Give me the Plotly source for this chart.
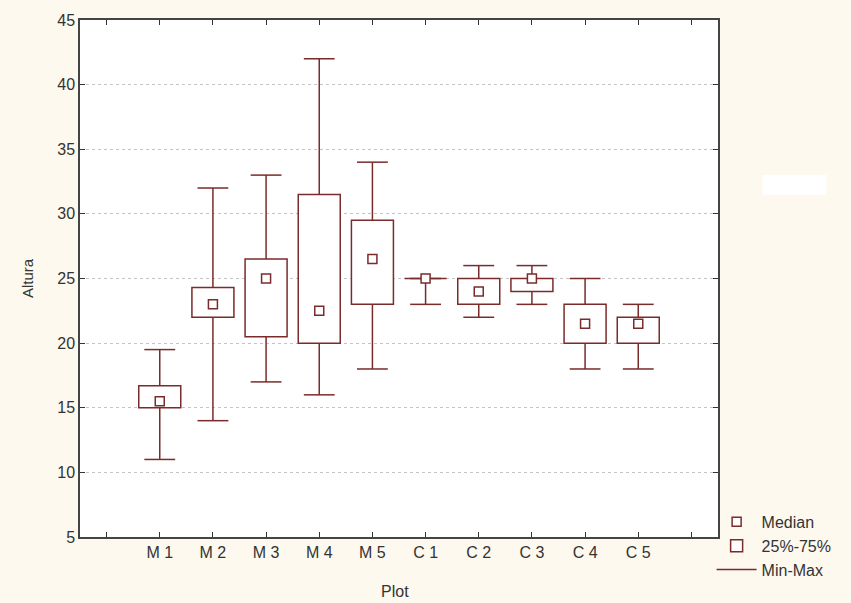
import plotly.graph_objects as go

categories = ["M 1", "M 2", "M 3", "M 4", "M 5", "C 1", "C 2", "C 3", "C 4", "C 5"]
minimum = [11, 14, 17, 16, 18, 23, 22, 23, 18, 18]
q1 = [15, 22, 20.5, 20, 23, 25, 23, 24, 20, 20]
median = [15.5, 23, 25, 22.5, 26.5, 25, 24, 25, 21.5, 21.5]
q3 = [16.7, 24.3, 26.5, 31.5, 29.5, 25, 25, 25, 23, 22]
maximum = [19.5, 32, 33, 42, 34, 25, 26, 26, 25, 23]

pos = list(range(1, len(categories) + 1))
col = "#7a2b2b"
font = "Arial, Liberation Sans, sans-serif"
cap = 0.29

wx, wy = [], []
for x, lo, a, b, hi in zip(pos, minimum, q1, q3, maximum):
    wx += [x, x, None, x - cap, x + cap, None, x, x, None, x - cap, x + cap, None]
    wy += [b, hi, None, hi, hi, None, a, lo, None, lo, lo, None]

fig = go.Figure()
fig.add_trace(go.Scatter(x=wx, y=wy, mode="lines", name="Min-Max",
                         line=dict(color=col, width=1.5)))
fig.add_trace(go.Bar(x=pos, y=[b - a for a, b in zip(q1, q3)], base=q1, width=0.79,
                     name="25%-75%",
                     marker=dict(color="white", line=dict(color=col, width=1.5))))
fig.add_trace(go.Scatter(x=pos, y=median, mode="markers", name="Median",
                         marker=dict(symbol="square", size=9, color="white",
                                     line=dict(color=col, width=1.5))))

fig.update_layout(
    width=851, height=603,
    margin=dict(l=80, r=133, t=17, b=66),
    paper_bgcolor="#fdf9ef", plot_bgcolor="white",
    font=dict(family=font, size=16, color="#333333"),
    showlegend=True,
    legend=dict(x=0.99, y=0.062, xanchor="left", yanchor="top",
                bgcolor="rgba(0,0,0,0)", font=dict(size=16, color="#333333"),
                traceorder="reversed", itemwidth=40),
    xaxis=dict(range=[-0.5, 11.5], tickvals=list(range(0, 12)),
               ticktext=[""] + categories + [""],
               ticks="inside", ticklen=5, tickcolor="#333", mirror="ticks",
               showline=True, linecolor="#444", linewidth=1.5,
               showgrid=False, zeroline=False, automargin=False),
    yaxis=dict(range=[5, 45], tickvals=list(range(5, 46, 5)),
               ticks="inside", ticklen=5, tickcolor="#333", mirror="ticks",
               showline=True, linecolor="#444", linewidth=1.5,
               showgrid=True, gridcolor="#c4c4c4", griddash="dot", gridwidth=1,
               zeroline=False,
               title=dict(text="Altura", font=dict(size=15), standoff=20)),
    annotations=[dict(text="Plot", xref="paper", yref="paper", x=0.494, y=-0.106,
                      xanchor="center", yanchor="middle", showarrow=False,
                      font=dict(size=16, color="#333333"))],
    shapes=[dict(type="rect", xref="paper", yref="paper", x0=1.07, x1=1.17,
                 y0=0.662, y1=0.70, fillcolor="white", line=dict(width=0), layer="below")],
)

fig.write_html("out.html", config={"displayModeBar": False},
               post_script="document.body.style.margin='0';document.body.style.overflow='hidden';")
